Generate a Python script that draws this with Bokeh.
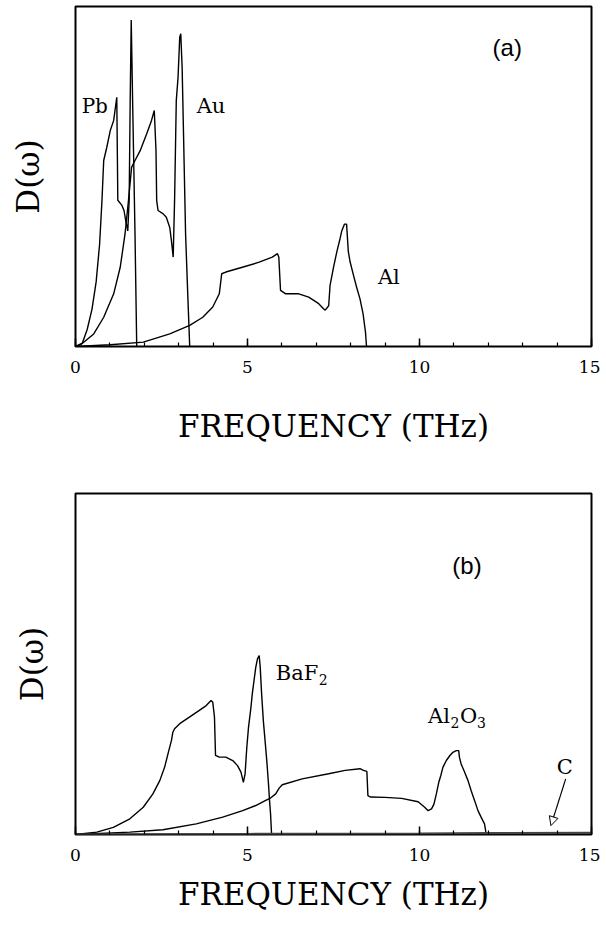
from bokeh.plotting import figure
from bokeh.layouts import column
from bokeh.models import Range1d, SingleIntervalTicker, Arrow, NormalHead, Label
from bokeh.embed import file_html
from bokeh.resources import INLINE

# ---------------- data (frequency in THz, D(w) in arbitrary units) ----------------
pb_f = [0, 0.2, 0.34, 0.48, 0.6, 0.7, 0.77, 0.82, 0.91, 1.01, 1.11, 1.20, 1.23, 1.35,
        1.41, 1.46, 1.52, 1.56, 1.59, 1.62, 1.66, 1.73, 1.78]
pb_d = [0, 0.01, 0.05, 0.11, 0.19, 0.30, 0.43, 0.547, 0.586, 0.635, 0.665, 0.733, 0.43, 0.415,
        0.40, 0.37, 0.34, 0.43, 0.724, 0.96, 0.724, 0.33, 0.0]

au_f = [0, 0.15, 0.53, 0.82, 1.11, 1.30, 1.44, 1.54, 1.63, 1.73, 1.88, 2.07, 2.21, 2.29,
        2.34, 2.36, 2.40, 2.55, 2.64, 2.74, 2.79, 2.84, 2.88, 2.93, 2.98, 3.03, 3.06,
        3.10, 3.14, 3.20, 3.27, 3.32]
au_d = [0, 0.005, 0.037, 0.086, 0.155, 0.233, 0.331, 0.429, 0.527, 0.547, 0.576, 0.626, 0.665, 0.694,
        0.576, 0.429, 0.40, 0.39, 0.38, 0.35, 0.31, 0.263, 0.429, 0.724, 0.79, 0.91, 0.92,
        0.82, 0.626, 0.331, 0.135, 0.0]

al_f = [0, 1.01, 1.97, 2.74, 3.32, 3.70, 3.99, 4.18, 4.25, 4.37, 4.85, 5.34, 5.72, 5.87,
        5.91, 5.96, 6.11, 6.49, 6.78, 7.07, 7.21, 7.26, 7.36, 7.40, 7.50, 7.60, 7.69,
        7.74, 7.82, 7.88, 7.93, 7.98, 8.08, 8.17, 8.27, 8.36, 8.43, 8.46]
al_d = [0, 0.005, 0.013, 0.037, 0.062, 0.086, 0.116, 0.155, 0.214, 0.219, 0.233, 0.248, 0.263, 0.273,
        0.263, 0.165, 0.155, 0.155, 0.145, 0.126, 0.111, 0.107, 0.12, 0.18, 0.233, 0.28, 0.317,
        0.34, 0.36, 0.36, 0.28, 0.25, 0.21, 0.175, 0.14, 0.096, 0.042, 0.0]

baf2_f = [0, 0.62, 1.10, 1.58, 1.97, 2.25, 2.45, 2.59, 2.69, 2.79, 2.83, 2.88, 3.03, 3.31,
          3.60, 3.80, 3.94, 3.99, 4.04, 4.07, 4.18, 4.37, 4.57, 4.71, 4.81, 4.88, 4.93,
          4.98, 5.03, 5.10, 5.14, 5.19, 5.24, 5.29, 5.34, 5.37, 5.41, 5.46, 5.51, 5.56,
          5.61, 5.64, 5.67, 5.70]
baf2_d = [0, 0.007, 0.021, 0.046, 0.08, 0.119, 0.158, 0.197, 0.237, 0.276, 0.30, 0.31, 0.325, 0.344,
          0.364, 0.378, 0.393, 0.388, 0.344, 0.232, 0.227, 0.227, 0.217, 0.202, 0.183, 0.153, 0.178,
          0.256, 0.315, 0.373, 0.413, 0.452, 0.49, 0.515, 0.525, 0.49, 0.413, 0.334, 0.276, 0.217,
          0.149, 0.10, 0.061, 0.0]

al2o3_f = [0, 1.58, 2.54, 3.51, 4.28, 4.86, 5.24, 5.53, 5.67, 5.82, 5.92, 6.01, 6.59, 7.36,
           7.84, 8.27, 8.37, 8.47, 8.50, 8.57, 9.00, 9.48, 9.96, 10.15, 10.25, 10.35, 10.42,
           10.49, 10.56, 10.62, 10.68, 10.78, 10.88, 10.97, 11.07, 11.14, 11.16, 11.21, 11.31,
           11.41, 11.50, 11.60, 11.70, 11.79, 11.89, 11.94, 15.0]
al2o3_d = [0, 0.007, 0.014, 0.031, 0.051, 0.07, 0.085, 0.10, 0.107, 0.119, 0.136, 0.146, 0.163, 0.178,
           0.188, 0.193, 0.188, 0.185, 0.114, 0.11, 0.109, 0.106, 0.096, 0.08, 0.07, 0.075, 0.089,
           0.119, 0.153, 0.173, 0.197, 0.217, 0.231, 0.241, 0.246, 0.246, 0.227, 0.207, 0.183,
           0.158, 0.129, 0.10, 0.07, 0.051, 0.031, 0.0, 0.0]

c_f = [0, 5, 10, 12, 15]
c_d = [0, 0.0015, 0.003, 0.004, 0.005]

x_ticks_interval = 5

SERIF = "DejaVu Serif"
SANS = "Liberation Sans"


def make_panel(height, b_top, b_bottom, b_left, b_right, ytop, tick_standoff, lab_standoff, ylab_standoff):
    p = figure(width=600, height=height, output_backend="svg", toolbar_location=None,
               x_range=Range1d(0, 15), y_range=Range1d(0, ytop),
               min_border_top=b_top, min_border_bottom=b_bottom,
               min_border_left=b_left, min_border_right=b_right)
    p.grid.visible = False
    p.background_fill_color = "white"
    p.border_fill_color = "white"
    p.outline_line_color = "black"
    p.outline_line_width = 2
    ax = p.xaxis[0]
    ax.ticker = SingleIntervalTicker(interval=x_ticks_interval, num_minor_ticks=5)
    ax.axis_line_color = None
    ax.major_tick_in = 8
    ax.major_tick_out = 0
    ax.minor_tick_in = 4
    ax.minor_tick_out = 0
    ax.major_tick_line_width = 1.5
    ax.minor_tick_line_width = 1.2
    ax.major_label_text_font = SERIF
    ax.major_label_text_font_size = "17px"
    ax.major_label_text_color = "black"
    ax.major_label_standoff = tick_standoff
    ax.axis_label = "FREQUENCY (THz)"
    ax.axis_label_text_font = SERIF
    ax.axis_label_text_font_size = "31px"
    ax.axis_label_text_font_style = "normal"
    ax.axis_label_text_color = "black"
    ax.axis_label_standoff = lab_standoff
    ay = p.yaxis[0]
    ay.ticker = []
    ay.axis_line_color = None
    ay.major_tick_line_color = None
    ay.minor_tick_line_color = None
    ay.axis_label = "D(ω)"
    ay.axis_label_text_font = SERIF
    ay.axis_label_text_font_size = "31px"
    ay.axis_label_text_font_style = "normal"
    ay.axis_label_text_color = "black"
    ay.axis_label_standoff = ylab_standoff
    return p


def add_label(p, x, y, text, font, size, align="center", dx=0, dy=0):
    p.add_layout(Label(x=x, y=y, text=text, text_font=font, text_font_size=size,
                       text_align=align, text_baseline="middle", text_color="black",
                       x_offset=dx, y_offset=dy))


# ---------------- panel (a) ----------------
pa = make_panel(460, 6, 114, 75, 5, 1.0, 14, 32, 30)
for f, d in [(pb_f, pb_d), (au_f, au_d), (al_f, al_d)]:
    pa.line(f, d, line_color="black", line_width=1.4)
add_label(pa, 0.56, 0.706, "Pb", SERIF, "20px")
add_label(pa, 3.94, 0.706, "Au", SERIF, "21px")
add_label(pa, 9.11, 0.204, "Al", SERIF, "21px")
add_label(pa, 12.55, 0.88, "(a)", SANS, "24px")

# ---------------- panel (b) ----------------
pb = make_panel(462, 33, 88, 72, 9, 1.0, 14, 12, 26)
for f, d in [(baf2_f, baf2_d), (al2o3_f, al2o3_d)]:
    pb.line(f, d, line_color="black", line_width=1.4)
pb.line(c_f, c_d, line_color="#444444", line_width=2.2)

# BaF2 with a real subscript
add_label(pb, 5.82, 0.473, "BaF", SERIF, "21px", "left")
add_label(pb, 5.82, 0.473, "2", SERIF, "14px", "left", dx=43, dy=-6)
# Al2O3 with real subscripts
add_label(pb, 10.25, 0.347, "Al", SERIF, "21px", "left")
add_label(pb, 10.25, 0.347, "2", SERIF, "14px", "left", dx=22.5, dy=-6)
add_label(pb, 10.25, 0.347, "O", SERIF, "21px", "left", dx=32)
add_label(pb, 10.25, 0.347, "3", SERIF, "14px", "left", dx=49, dy=-6)

add_label(pb, 14.22, 0.197, "C", SERIF, "21px")
add_label(pb, 11.38, 0.79, "(b)", SANS, "24px")
pb.add_layout(Arrow(end=NormalHead(size=9, line_width=1, line_color="black", fill_color="white"),
                    x_start=14.25, y_start=0.163, x_end=13.82, y_end=0.026,
                    line_width=1.2, line_color="black"))

layout = column(pa, pb, spacing=0)
open("out.html", "w").write(file_html(layout, INLINE))
